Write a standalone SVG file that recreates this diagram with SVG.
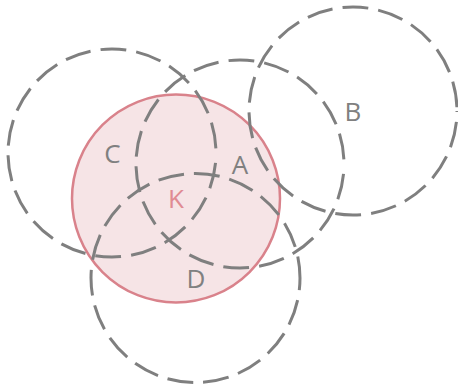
<svg xmlns="http://www.w3.org/2000/svg" width="458" height="389" viewBox="0 0 458 389">
  <style>
    .set { fill: none; stroke: #7f7f7f; stroke-width: 3; stroke-dasharray: 26 10; }
    .focus { fill: #f6e4e6; stroke: #d9828b; stroke-width: 2.5; }
    .lbl { font-family: "Open Sans", "Liberation Sans", sans-serif; font-size: 26px; fill: #808080; text-anchor: middle; }
    .lbl-focus { fill: #e08b93; }
  </style>
  <rect width="458" height="389" fill="#ffffff"/>
  <!-- highlighted set K sits underneath the dashed outlines -->
  <g id="node-K">
    <circle class="focus" cx="176" cy="198.5" r="104"/>
    <text class="lbl lbl-focus" x="176" y="208">K</text>
  </g>
  <g id="node-C">
    <circle class="set" cx="112" cy="153" r="104" stroke-dashoffset="26"/>
    <text class="lbl" x="112.5" y="162.5">C</text>
  </g>
  <g id="node-A">
    <circle class="set" cx="240" cy="164" r="104" stroke-dashoffset="26"/>
    <text class="lbl" x="240" y="174">A</text>
  </g>
  <g id="node-B">
    <circle class="set" cx="353" cy="111" r="104" stroke-dashoffset="25"/>
    <text class="lbl" x="353" y="121">B</text>
  </g>
  <g id="node-D">
    <circle class="set" cx="195.5" cy="278" r="104.5" stroke-dashoffset="13.7"/>
    <text class="lbl" x="196" y="288">D</text>
  </g>
  <g id="connectors"/>
</svg>
